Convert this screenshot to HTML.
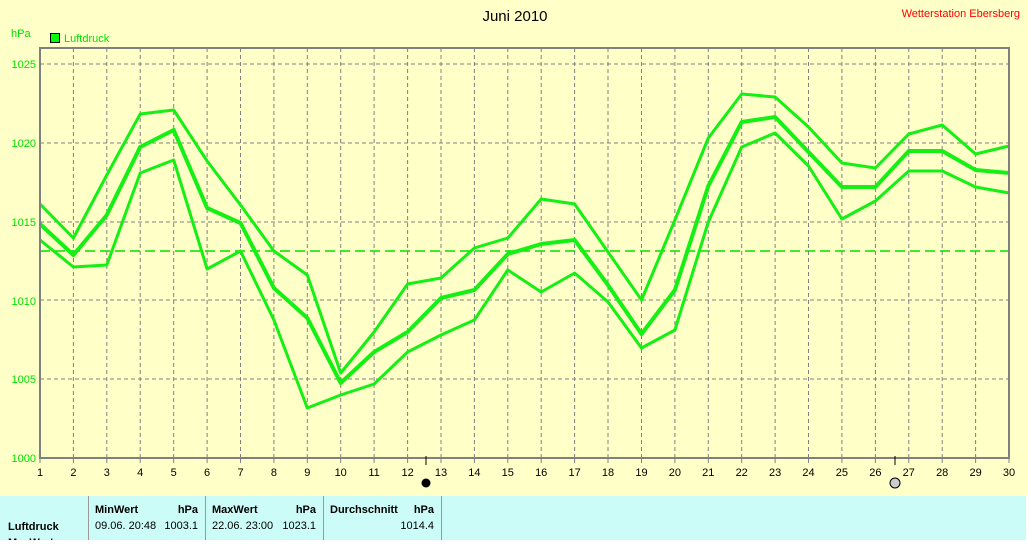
<!DOCTYPE html>
<html><head><meta charset="utf-8"><style>
body{margin:0;width:1028px;height:540px;overflow:hidden;background:#fff;font-family:"Liberation Sans",sans-serif}
</style></head><body>
<svg width="1028" height="540" xmlns="http://www.w3.org/2000/svg" font-family="Liberation Sans, sans-serif">
<rect x="0" y="0" width="1028" height="496" fill="#ffffc8"/>
<rect x="0" y="496" width="1026" height="44" fill="#ccfcf8"/>
<text x="515" y="21" font-size="15" text-anchor="middle" fill="#000">Juni 2010</text>
<text x="1020" y="17" font-size="11" text-anchor="end" fill="#ff0000">Wetterstation Ebersberg</text>
<text x="11" y="37" font-size="11" fill="#00e000">hPa</text>
<rect x="50.5" y="33.5" width="9" height="9" fill="#00ff00" stroke="#000"/>
<text x="64" y="42" font-size="11" fill="#00e000">Luftdruck</text>
<g id="grid"></g>
<g fill="#00e000" font-size="11" text-anchor="end">
<text x="36" y="68">1025</text><text x="36" y="147">1020</text><text x="36" y="226">1015</text>
<text x="36" y="305">1010</text><text x="36" y="383">1005</text><text x="36" y="462">1000</text>
</g>
<g id="xl" font-size="11" text-anchor="middle" fill="#000"></g>
<line x1="40" y1="251" x2="1009" y2="251" stroke="#00e000" stroke-width="1.5" stroke-dasharray="10,5"/>
<g fill="none" stroke="#14f014" stroke-linejoin="round">
<polyline id="pmax" stroke-width="3" points=""/>
<polyline id="pmean" stroke-width="4" points=""/>
<polyline id="pmin" stroke-width="3" points=""/>
</g>
<rect x="40" y="48" width="969" height="410" fill="none" stroke="#808080" stroke-width="2"/>
<line x1="426" y1="456" x2="426" y2="465" stroke="#000"/>
<circle cx="426" cy="483" r="4.5" fill="#000"/>
<line x1="895" y1="456" x2="895" y2="465" stroke="#000"/>
<circle cx="895" cy="483" r="5" fill="#ccc" stroke="#000"/>
<g stroke="#999" stroke-width="1"><line x1="88.5" y1="496" x2="88.5" y2="540"/><line x1="205.5" y1="496" x2="205.5" y2="540"/><line x1="323.5" y1="496" x2="323.5" y2="540"/><line x1="441.5" y1="496" x2="441.5" y2="540"/></g>
<g font-size="11" fill="#000">
<text x="95" y="513" font-weight="bold">MinWert</text><text x="198" y="513" font-weight="bold" text-anchor="end">hPa</text>
<text x="212" y="513" font-weight="bold">MaxWert</text><text x="316" y="513" font-weight="bold" text-anchor="end">hPa</text>
<text x="330" y="513" font-weight="bold">Durchschnitt</text><text x="434" y="513" font-weight="bold" text-anchor="end">hPa</text>
<text x="8" y="530" font-weight="bold">Luftdruck</text>
<text x="8" y="546" font-weight="bold">MaxWert</text>
<text x="95" y="529">09.06.  20:48</text><text x="198" y="529" text-anchor="end">1003.1</text>
<text x="212" y="529">22.06.  23:00</text><text x="316" y="529" text-anchor="end">1023.1</text>
<text x="434" y="529" text-anchor="end">1014.4</text>
</g>
</svg>
<script>
var X=function(d){return 40+(d-1)*33.414;};
var g='';for(var d=2;d<=29;d++){var x=X(d).toFixed(1);g+='<line x1="'+x+'" y1="48" x2="'+x+'" y2="458"/>';}
[64,143,222,300,379].forEach(function(y){g+='<line x1="40" y1="'+y+'" x2="1009" y2="'+y+'"/>';});
var xl='';for(var d=1;d<=30;d++){xl+='<text x="'+X(d).toFixed(1)+'" y="476">'+d+'</text>';}
var gr=document.getElementById('grid');
gr.setAttribute('stroke','#808080');gr.setAttribute('stroke-dasharray','4,3');
gr.innerHTML=g;
var tk='';for(var d=1;d<=30;d++){tk+='<line x1="'+X(d).toFixed(1)+'" y1="458" x2="'+X(d).toFixed(1)+'" y2="463" stroke="#808080"/>';}
document.getElementById('xl').innerHTML=xl+tk;
var mx=[204,238,175,114,110,161,205,251,275,373,332,284,278,248,238,199,204,252,300,220,138,94,97,127,163,168,134,125,154,146];
var mn=[224,255,215,147,130,208,223,288,318,383,352,332,298,290,254,244,240,285,334,290,186,122,117,152,187,187,151,151,170,173];
var mi=[240,267,265,173,160,269,251,320,408,395,384,352,335,320,270,292,273,302,348,330,222,147,133,166,219,201,171,171,187,193];
function pts(a){return a.map(function(y,i){return X(i+1).toFixed(1)+','+y;}).join(' ');}
document.getElementById('pmax').setAttribute('points',pts(mx));
document.getElementById('pmean').setAttribute('points',pts(mn));
document.getElementById('pmin').setAttribute('points',pts(mi));
</script>
</body></html>
